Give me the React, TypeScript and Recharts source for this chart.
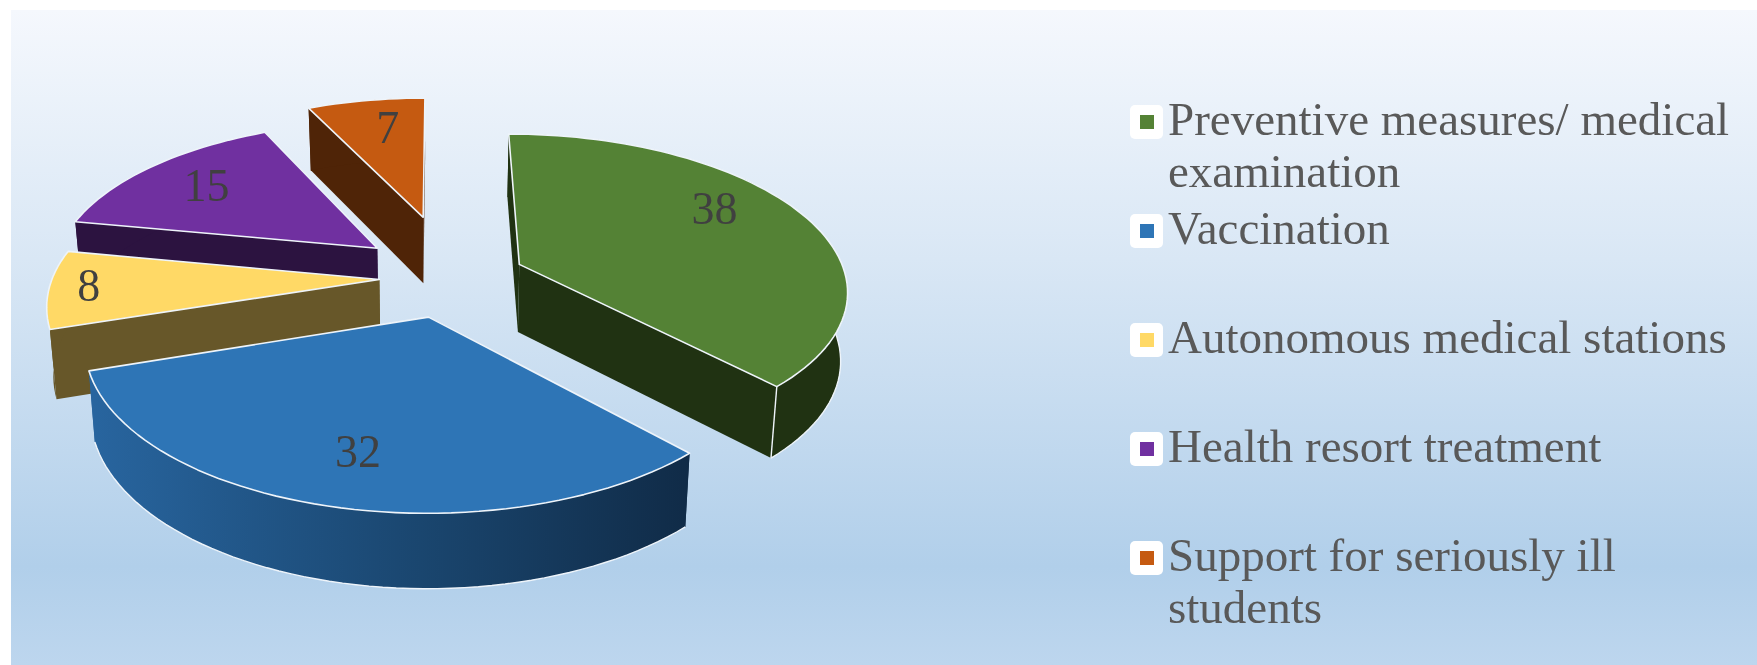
import React from 'react';
import { Legend, Pie, PieChart } from 'recharts';

const CATEGORIES = [
  'Preventive measures/ medical examination',
  'Vaccination',
  'Autonomous medical stations',
  'Health resort treatment',
  'Support for seriously ill students'
];
const SHARES = [38, 32, 8, 15, 7];
const TOP_COLORS = ['#548235', '#2e75b6', '#ffd966', '#7030a0', '#c55a11'];
const WALL_COLORS = ['#203212', 'url(#blueWall)', '#675729', '#2c1340', '#4f2407'];

// how far each slice is pulled out of the pie, in radii (sideways, depthwise)
const EXPLODE = [
  [0.255, -0.09],
  [-0.025, 0.245],
  [-0.176, 0.01],
  [-0.188, -0.2],
  [-0.045, -0.42]
];
// label spot inside a slice: fraction of radius and a small angle shift
const LABEL_SPOT = [
  [0.75, 8],
  [0.755, 0.5],
  [0.88, 0],
  [0.73, 1],
  [0.71, -2]
];

const WIDTH = 1757;
const HEIGHT = 665;
const PIE_CX = 432;
const PIE_CY = 273;
const PIE_RADIUS = 327;
const TILT = 0.47;
const PERSPECTIVE = 0.15;
const THICKNESS = 68;
const FOOT_SHRINK = 0.983;
const EDGE = '#eef4fa';

const tableData = CATEGORIES.map((name, i) => ({
  name,
  value: SHARES[i],
  fill: TOP_COLORS[i],
  idx: i
}));
// walls get painted back to front
const wallData = [...tableData].reverse();

const sliceIndex = (props: any): number => props.idx ?? props.payload?.idx ?? 0;

// flat pie coords -> screen, `drop` 0 is the top face, 1 the foot of the wall
const project = (cx: number, cy: number, r: number, u: number, v: number, drop = 0) => {
  const s = 1 / (1 - (PERSPECTIVE * v) / r);
  const foot = 1 - (1 - FOOT_SHRINK) * drop;
  return {
    x: cx + u * s * foot,
    y: cy + v * TILT * s + drop * THICKNESS * Math.sqrt(s)
  };
};

const arcPoints = (props: any, drop: number, from: number, to: number) => {
  const { cx, cy, outerRadius: r } = props;
  const [ox, oy] = EXPLODE[sliceIndex(props)];
  const steps = Math.max(2, Math.ceil(Math.abs(to - from) / 2));
  const pts = [];
  for (let k = 0; k <= steps; k++) {
    const a = ((from + ((to - from) * k) / steps) * Math.PI) / 180;
    pts.push(project(cx, cy, r, ox * r + r * Math.cos(a), oy * r - r * Math.sin(a), drop));
  }
  return pts;
};

const apexPoint = (props: any, drop: number) => {
  const { cx, cy, outerRadius: r } = props;
  const [ox, oy] = EXPLODE[sliceIndex(props)];
  return project(cx, cy, r, ox * r, oy * r, drop);
};

const toLine = (pts: { x: number; y: number }[]) =>
  pts.map((p, i) => `${i ? 'L' : 'M'}${p.x.toFixed(1)} ${p.y.toFixed(1)}`).join(' ');
const toPath = (pts: { x: number; y: number }[]) => toLine(pts) + ' Z';

const WallShape = (props: any) => {
  const { startAngle, endAngle } = props;
  const wall = WALL_COLORS[sliceIndex(props)];
  const apexTop = apexPoint(props, 0);
  const apexFoot = apexPoint(props, 1);
  const top = arcPoints(props, 0, startAngle, endAngle);
  const foot = arcPoints(props, 1, startAngle, endAngle);
  const last = top.length - 1;
  const lo = Math.min(startAngle, endAngle);
  const hi = Math.max(startAngle, endAngle);
  // only a long enough stretch of the near rim shows a light edge
  const nearFrom = Math.max(lo, -180);
  const nearTo = Math.min(hi, 0);
  const hasNear = nearTo - nearFrom > 30;
  return (
    <g>
      <path d={toPath([apexTop, top[0], foot[0], apexFoot])} fill={wall} stroke="none" />
      <path d={toPath([apexTop, top[last], foot[last], apexFoot])} fill={wall} stroke="none" />
      <path d={toPath([...top, ...[...foot].reverse()])} fill={wall} stroke="none" />
      {hasNear && (
        <path d={toLine(arcPoints(props, 1, nearFrom, nearTo))} fill="none" stroke={EDGE} strokeWidth={1.4} />
      )}
      {hasNear && lo > -90 && lo < 0 && (
        <path d={toLine([arcPoints(props, 0, lo, lo)[0], arcPoints(props, 1, lo, lo)[0]])} stroke={EDGE} strokeWidth={1.4} />
      )}
    </g>
  );
};

const TopShape = (props: any) => {
  const { startAngle, endAngle, fill } = props;
  const pts = [apexPoint(props, 0), ...arcPoints(props, 0, startAngle, endAngle)];
  return <path d={toPath(pts)} fill={fill} stroke={EDGE} strokeWidth={1.6} strokeLinejoin="round" />;
};

const renderSliceLabel = (props: any) => {
  const { cx, cy, outerRadius: r, midAngle, value } = props;
  const i = sliceIndex(props);
  const [ox, oy] = EXPLODE[i];
  const [fraction, shift] = LABEL_SPOT[i];
  const a = ((midAngle + shift) * Math.PI) / 180;
  const p = project(cx, cy, r, ox * r + fraction * r * Math.cos(a), oy * r - fraction * r * Math.sin(a));
  return (
    <text
      x={p.x}
      y={p.y - 3}
      textAnchor="middle"
      dominantBaseline="central"
      fontFamily="'Liberation Serif', serif"
      fontSize={46}
      fill="#404040"
    >
      {value}
    </text>
  );
};

const LegendList = ({ payload }: any) => {
  const rows = (payload || [])
    .filter((entry: any) => entry.type !== 'none')
    .slice()
    .sort((a: any, b: any) => CATEGORIES.indexOf(a.value) - CATEGORIES.indexOf(b.value));
  return (
    <div style={{ fontFamily: "'Liberation Serif', serif", fontSize: 47, lineHeight: '52px', color: '#595959' }}>
      {rows.map((entry: any) => (
        <div key={entry.value} style={{ height: 109, position: 'relative', paddingLeft: 38 }}>
          <span
            style={{
              position: 'absolute',
              left: 0,
              top: 12,
              width: 33,
              height: 34,
              background: '#fff',
              borderRadius: 5
            }}
          >
            <span
              style={{
                position: 'absolute',
                left: 10,
                top: 10,
                width: 14,
                height: 14,
                background: entry.color
              }}
            />
          </span>
          {entry.value}
        </div>
      ))}
    </div>
  );
};

export default function App() {
  return (
    <div style={{ position: 'absolute', left: 0, top: 0, width: WIDTH, height: HEIGHT, background: '#fff', overflow: 'hidden' }}>
      <div
        style={{
          position: 'absolute',
          left: 11,
          top: 10,
          right: 0,
          bottom: 0,
          background: 'linear-gradient(180deg, #f5f8fd 0%, #d9e7f5 38%, #b1cfea 85%, #bdd6ee 100%)'
        }}
      />
      <div style={{ position: 'absolute', left: 0, top: 0, filter: 'blur(0.6px)' }}>
        <PieChart width={WIDTH} height={HEIGHT}>
          <defs>
            <linearGradient id="blueWall" gradientUnits="userSpaceOnUse" x1={90} y1={0} x2={690} y2={0}>
              <stop offset="0%" stopColor="#28659f" />
              <stop offset="55%" stopColor="#1a466f" />
              <stop offset="100%" stopColor="#102b47" />
            </linearGradient>
          </defs>
          <Pie
            data={wallData}
            dataKey="value"
            nameKey="name"
            cx={PIE_CX}
            cy={PIE_CY}
            outerRadius={PIE_RADIUS}
            startAngle={-270}
            endAngle={90}
            legendType="none"
            shape={WallShape}
            inactiveShape={WallShape}
            label={false}
            isAnimationActive={false}
          />
          <Pie
            data={tableData}
            dataKey="value"
            nameKey="name"
            cx={PIE_CX}
            cy={PIE_CY}
            outerRadius={PIE_RADIUS}
            startAngle={90}
            endAngle={-270}
            shape={TopShape}
            inactiveShape={TopShape}
            label={renderSliceLabel}
            labelLine={false}
            isAnimationActive={false}
          />
          <Legend
            content={<LegendList />}
            wrapperStyle={{ position: 'absolute', left: 1130, top: 93, width: 625, bottom: 'auto', right: 'auto' }}
          />
        </PieChart>
      </div>
    </div>
  );
}
